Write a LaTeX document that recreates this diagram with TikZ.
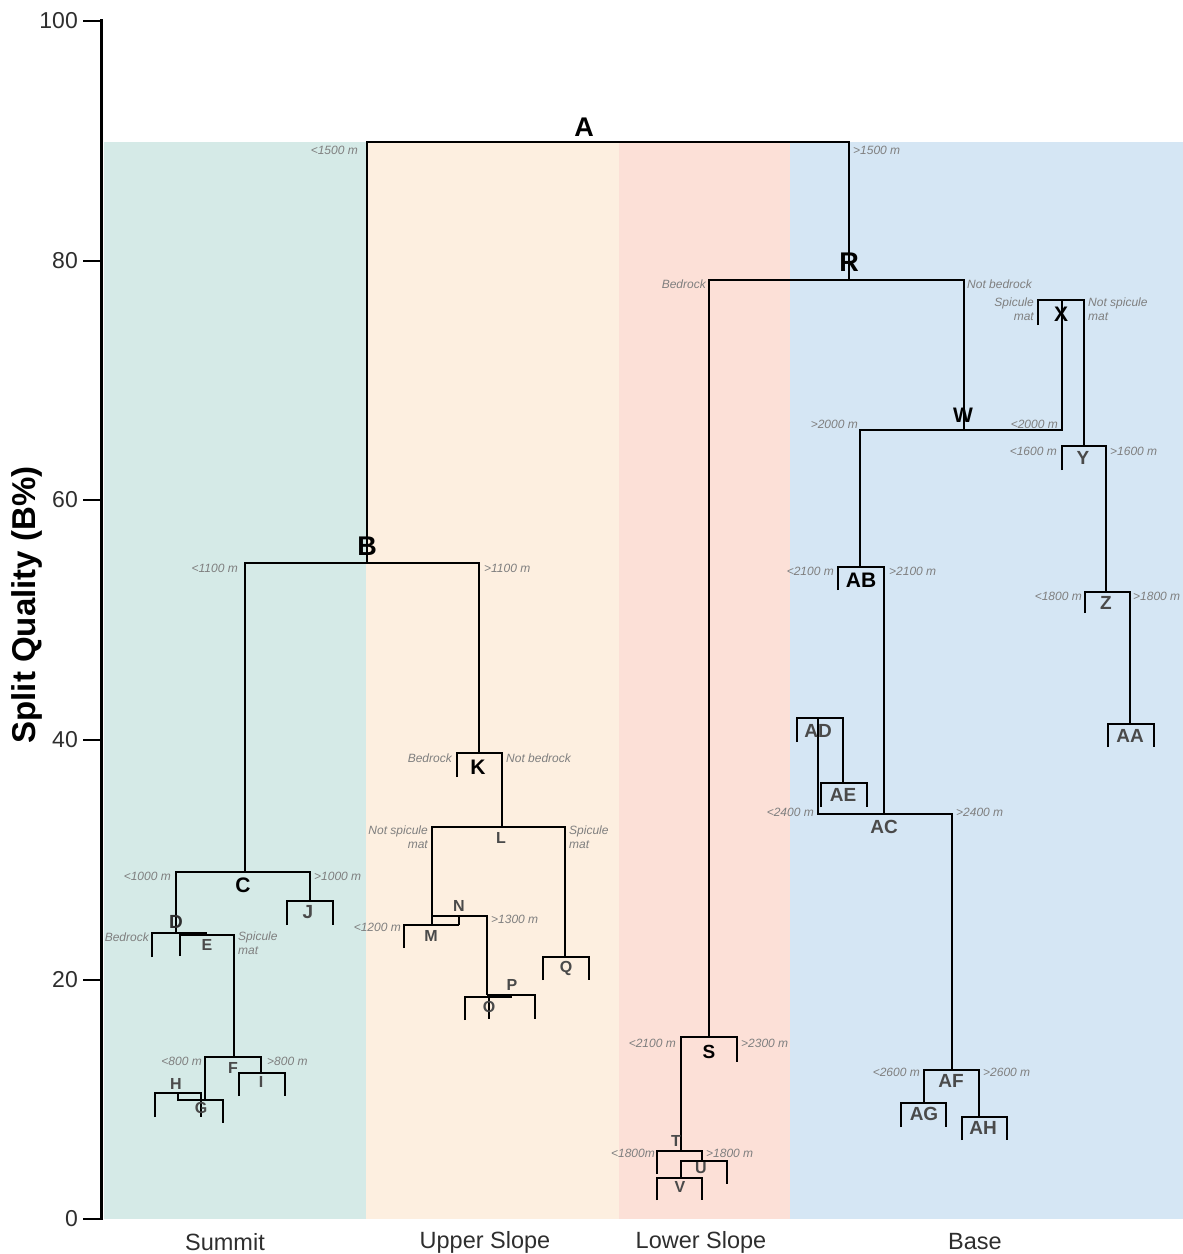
\documentclass[tikz,border=0pt]{standalone}
\usepackage{fontspec}
\setmainfont{Liberation Sans}
\definecolor{summit}{HTML}{D5EAE7}
\definecolor{upper}{HTML}{FDEFE0}
\definecolor{lower}{HTML}{FCE0D7}
\definecolor{base}{HTML}{D5E6F4}
\definecolor{splitgrey}{HTML}{7F7F7F}
\definecolor{lettergrey}{HTML}{4A4A4A}
\definecolor{axisgrey}{HTML}{2E2E2E}

\begin{document}
\begin{tikzpicture}[x=1pt,y=-1pt,
	branch/.style={line width=2.8pt},
	splitr/.style={anchor=east, inner sep=0pt, align=right, text=splitgrey, font=\fontsize{12}{14.5}\selectfont\itshape},
	splitl/.style={anchor=west, inner sep=0pt, align=left, text=splitgrey, font=\fontsize{12}{14.5}\selectfont\itshape},
	bigletter/.style={inner sep=0pt, font=\fontsize{27}{29}\selectfont\bfseries},
	midletter/.style={inner sep=0pt, font=\fontsize{21}{23}\selectfont\bfseries},
	segletter/.style={inner sep=0pt, text=lettergrey, font=\fontsize{19}{21}\selectfont\bfseries},
	smallletter/.style={inner sep=0pt, text=lettergrey, font=\fontsize{16}{18}\selectfont\bfseries},
	ticklabel/.style={anchor=east, inner sep=0pt, text=axisgrey, font=\fontsize{23}{25}\selectfont},
	zonelabel/.style={inner sep=0pt, text=axisgrey, font=\fontsize{23.5}{25}\selectfont}]
	\useasboundingbox (0,0) rectangle (1183,1254);

	%bands
	\fill[summit]	(104,142) rectangle (366,1219);
	\fill[upper]	(366,142) rectangle (619,1219);
	\fill[lower]	(619,142) rectangle (790,1219);
	\fill[base]		(790,142) rectangle (1183,1219);

	%axis
	\draw[line width=3pt]	(101,19)--(101,1220);
	\foreach \v/\y in {100/21,80/261,60/500,40/740,20/980,0/1219}{
		\draw[line width=2pt]	(83,\y)--(101,\y);
		\node[ticklabel] (tick\v) at (78,\y) {\v};
	}
	\node[rotate=90, inner sep=0pt, font=\fontsize{33}{35}\selectfont\bfseries] (ylab) at (27,605) {Split Quality (B\%)};

	%zones
	\node[zonelabel] (summit) at (225,1242) {Summit};
	\node[zonelabel] (upper) at (485,1242) {Upper Slope};
	\node[zonelabel] (lower) at (701,1242) {Lower Slope};
	\node[zonelabel] (base) at (975,1242) {Base};

	%tree, left part
	\draw[branch]	(367,563)--(367,142)--(849,142)--(849,280);			%A
	\draw[branch]	(245,872)--(245,563)--(479,563)--(479,753);			%B
	\draw[branch]	(176,933)--(176,872)--(310,872)--(310,901);			%C
	\draw[branch]	(287,925)--(287,901)--(333,901)--(333,925);			%J
	\draw[branch]	(152,957)--(152,933)--(207,933);						%D
	\draw[branch]	(180,956)--(180,935)--(234,935)--(234,1057);		%E
	\draw[branch]	(205,1100)--(205,1057)--(261,1057)--(261,1073);		%F
	\draw[branch]	(239,1096)--(239,1073)--(285,1073)--(285,1096);		%I
	\draw[branch]	(178,1093)--(178,1100)--(223,1100)--(223,1123);		%G
	\draw[branch]	(155,1117)--(155,1093)--(201,1093)--(201,1117);		%H
	\draw[branch]	(457,777)--(457,753)--(502,753)--(502,827);			%K
	\draw[branch]	(432,925)--(432,827)--(565,827)--(565,957);			%L
	\draw[branch]	(432,916)--(487,916)--(487,995);						%N
	\draw[branch]	(459,916)--(459,925);
	\draw[branch]	(404,948)--(404,925)--(459,925);						%M
	\draw[branch]	(465,1020)--(465,997)--(512,997);					%O
	\draw[branch]	(487,995)--(535,995)--(535,1019);					%P
	\draw[branch]	(489,995)--(489,1019);
	\draw[branch]	(543,980)--(543,957)--(589,957)--(589,980);			%Q

	%tree, right part
	\draw[branch]	(709,1037)--(709,280)--(964,280)--(964,430);		%R
	\draw[branch]	(681,1151)--(681,1037)--(737,1037)--(737,1062);		%S
	\draw[branch]	(657,1174)--(657,1151)--(702,1151)--(702,1161);		%T
	\draw[branch]	(681,1177)--(681,1161)--(727,1161)--(727,1184);		%U
	\draw[branch]	(657,1200)--(657,1178)--(702,1178)--(702,1200);		%V
	\draw[branch]	(860,567)--(860,430)--(1062,430)--(1062,300);		%W
	\draw[branch]	(1038,325)--(1038,300)--(1084,300)--(1084,446);		%X
	\draw[branch]	(1062,470)--(1062,446)--(1106,446)--(1106,592);		%Y
	\draw[branch]	(1085,613)--(1085,592)--(1130,592)--(1130,724);		%Z
	\draw[branch]	(1108,747)--(1108,724)--(1154,724)--(1154,747);		%AA
	\draw[branch]	(838,590)--(838,567)--(884,567)--(884,814);			%AB
	\draw[branch]	(818,718)--(818,814)--(952,814)--(952,1070);		%AC
	\draw[branch]	(797,742)--(797,718)--(843,718)--(843,783);			%AD
	\draw[branch]	(821,807)--(821,783)--(867,783)--(867,807);			%AE
	\draw[branch]	(924,1103)--(924,1070)--(979,1070)--(979,1117);		%AF
	\draw[branch]	(901,1127)--(901,1103)--(946,1103)--(946,1127);		%AG
	\draw[branch]	(962,1140)--(962,1117)--(1007,1117)--(1007,1140);	%AH

	%letters
	\node[bigletter] (A) at (584,127) {A};
	\node[bigletter] (R) at (849,262) {R};
	\node[bigletter] (B) at (367,546) {B};
	\node[midletter] (W) at (963,415) {W};
	\node[midletter] (X) at (1061,314) {X};
	\node[midletter] (AB) at (861,580) {AB};
	\node[midletter] (K) at (478,767) {K};
	\node[midletter] (C) at (243,885) {C};
	\node[segletter, text=black] (S) at (709,1052) {S};
	\node[segletter, text=axisgrey] (D) at (176,922) {D};
	\node[segletter] (J) at (308,912) {J};
	\node[segletter] (Y) at (1083,458) {Y};
	\node[segletter] (Z) at (1106,603) {Z};
	\node[segletter] (AA) at (1130,736) {AA};
	\node[segletter] (AC) at (884,827) {AC};
	\node[segletter] (AD) at (818,731) {AD};
	\node[segletter] (AE) at (843,795) {AE};
	\node[segletter] (AF) at (951,1081) {AF};
	\node[segletter] (AG) at (924,1114) {AG};
	\node[segletter] (AH) at (983,1128) {AH};
	\node[smallletter] (E) at (207,945) {E};
	\node[smallletter] (F) at (233,1068) {F};
	\node[smallletter] (G) at (201,1108) {G};
	\node[smallletter] (H) at (176,1084) {H};
	\node[smallletter] (I) at (261,1082) {I};
	\node[smallletter] (L) at (501,838) {L};
	\node[smallletter] (N) at (459,906) {N};
	\node[smallletter] (M) at (431,936) {M};
	\node[smallletter] (O) at (489,1007) {O};
	\node[smallletter] (P) at (512,985) {P};
	\node[smallletter] (Q) at (566,968) {Q};
	\node[smallletter] (T) at (676,1141) {T};
	\node[smallletter] (U) at (701,1168) {U};
	\node[smallletter] (V) at (680,1187) {V};

	%split labels
	\node[splitr] (sA1) at (358,150) {<1500 m};
	\node[splitl] (sA2) at (853,150) {>1500 m};
	\node[splitr] (sR1) at (706,284) {Bedrock};
	\node[splitl] (sR2) at (967,284) {Not bedrock};
	\node[splitr] (sX1) at (1034,309) {Spicule\\mat};
	\node[splitl] (sX2) at (1088,309) {Not spicule\\mat};
	\node[splitr] (sW1) at (858,424) {>2000 m};
	\node[splitr] (sW2) at (1058,424) {<2000 m};
	\node[splitr] (sY1) at (1057,451) {<1600 m};
	\node[splitl] (sY2) at (1110,451) {>1600 m};
	\node[splitr] (sB1) at (238,568) {<1100 m};
	\node[splitl] (sB2) at (484,568) {>1100 m};
	\node[splitr] (sAB1) at (834,571) {<2100 m};
	\node[splitl] (sAB2) at (889,571) {>2100 m};
	\node[splitr] (sZ1) at (1082,596) {<1800 m};
	\node[splitl] (sZ2) at (1133,596) {>1800 m};
	\node[splitr] (sK1) at (452,758) {Bedrock};
	\node[splitl] (sK2) at (506,758) {Not bedrock};
	\node[splitr] (sAC1) at (814,812) {<2400 m};
	\node[splitl] (sAC2) at (956,812) {>2400 m};
	\node[splitr] (sL1) at (428,837) {Not spicule\\mat};
	\node[splitl] (sL2) at (569,837) {Spicule\\mat};
	\node[splitr] (sC1) at (171,876) {<1000 m};
	\node[splitl] (sC2) at (314,876) {>1000 m};
	\node[splitr] (sN1) at (401,927) {<1200 m};
	\node[splitl] (sN2) at (491,919) {>1300 m};
	\node[splitr] (sD1) at (149,937) {Bedrock};
	\node[splitl] (sD2) at (238,943) {Spicule\\mat};
	\node[splitr] (sS1) at (676,1043) {<2100 m};
	\node[splitl] (sS2) at (741,1043) {>2300 m};
	\node[splitr] (sF1) at (202,1061) {<800 m};
	\node[splitl] (sF2) at (267,1061) {>800 m};
	\node[splitr] (sAF1) at (920,1072) {<2600 m};
	\node[splitl] (sAF2) at (983,1072) {>2600 m};
	\node[splitr] (sT1) at (655,1153) {<1800m};
	\node[splitl] (sT2) at (706,1153) {>1800 m};
\end{tikzpicture}
\end{document}
